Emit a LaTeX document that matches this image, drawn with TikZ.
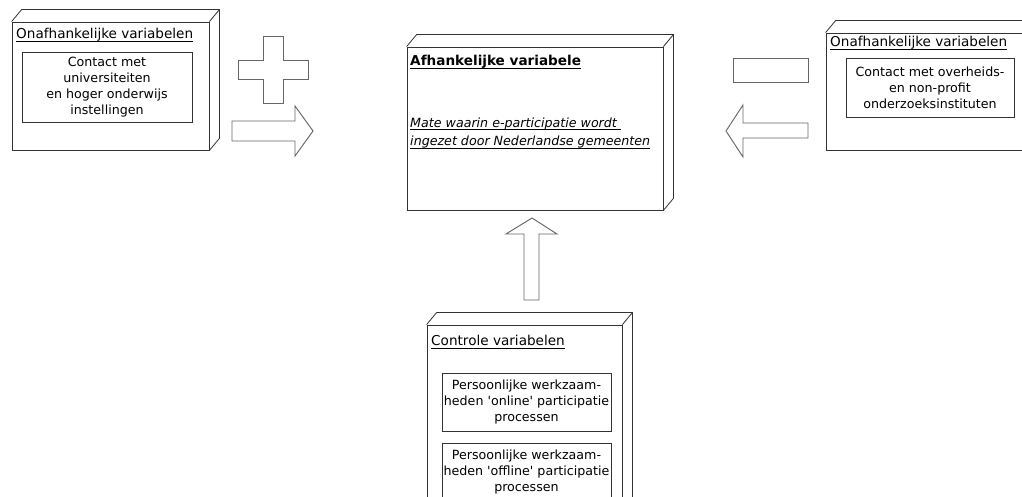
\documentclass[tikz,border=0pt]{standalone}
\usepackage{fontspec}
\setmainfont{DejaVu Sans}[Ligatures=TeXOff]
\usetikzlibrary{fit}

\newcommand\underl[1]{\setbox0\hbox{#1}\rlap{\rule[-2.2pt]{\wd0}{0.5pt}}\box0}
\newcommand\extrude[1]{%
  \draw[edge] (#1.north west) -- ++(10,-12) -- ([shift={(10,-12)}]#1.north east)
    -- ([shift={(10,-12)}]#1.south east) -- (#1.south east)
    (#1.north east) -- ++(10,-12);}

\begin{document}
\begin{tikzpicture}[x=0.3mm,y=-0.3mm,
  edge/.style={draw=black!80,line width=0.7pt},
  front/.style={edge,inner sep=0pt},
  inner/.style={edge,align=center,inner sep=0pt,font=\fontsize{10.8}{13.8}\selectfont},
  title/.style={inner sep=0pt,anchor=west,font=\fontsize{11.6}{14}\selectfont},
  blockshape/.style={draw=black!60,line width=0.8pt}]
\useasboundingbox (0,0) rectangle (1022,497);
\clip (0,0) rectangle (1022,497);

% independent variables, left
\node[front,fit={(12,22) (209,150)}] (indepL) {};
\node[title] (titleL) at (16,35) {\underl{Onafhankelijke variabelen}};
\node[inner,minimum width=51mm,minimum height=21mm] (contactL) at (107,87)
  {Contact met\\universiteiten\\en hoger onderwijs\\instellingen};

% dependent variable
\node[front,fit={(407,47) (663,210)}] (dep) {};
\node[title,font=\fontsize{11.6}{14}\selectfont\bfseries] (titleD) at (410,62) {\underl{Afhankelijke variabele}};
\node[title,align=left,font=\fontsize{10.8}{16}\itshape] (mate) at (410,133)
  {\underl{Mate waarin e-participatie wordt }\\\underl{ingezet door Nederlandse gemeenten}};

% independent variables, right
\node[front,fit={(826,33) (1040,150)}] (indepR) {};
\node[title] (titleR) at (830,43) {\underl{Onafhankelijke variabelen}};
\node[inner,minimum width=50.4mm,minimum height=17.7mm] (contactR) at (930,87.5)
  {Contact met overheids-\\en non-profit\\onderzoeksinstituten};

% control variables
\node[front,fit={(427,325) (622,560)}] (ctrl) {};
\node[title] (titleC) at (431,342) {\underl{Controle variabelen}};
\node[inner,minimum width=50.7mm,minimum height=17.4mm] (online) at (526.5,402)
  {Persoonlijke werkzaam-\\heden 'online' participatie\\processen};
\node[inner,minimum width=50.7mm,minimum height=17.4mm] (offline) at (526.5,472)
  {Persoonlijke werkzaam-\\heden 'offline' participatie\\processen};

\foreach \b in {indepL,dep,indepR,ctrl}
  \extrude{\b};

% plus and minus signs
\draw[blockshape] (263,36) -- (283,36) -- (283,60) -- (308,60) -- (308,79) -- (283,79)
  -- (283,103) -- (263,103) -- (263,79) -- (238,79) -- (238,60) -- (263,60) -- cycle;
\draw[blockshape] (733,58) rectangle (808,82);

% block arrows
\draw[blockshape] (232,121) -- (295,121) -- (295,106) -- (313,131) -- (295,156)
  -- (295,141) -- (232,141) -- cycle;
\draw[blockshape] (808,123) -- (743,123) -- (743,105) -- (726,131) -- (743,157)
  -- (743,138) -- (808,138) -- cycle;
\draw[blockshape] (524,300) -- (524,234) -- (506,234) -- (532,218) -- (557,234)
  -- (539,234) -- (539,300) -- cycle;
\end{tikzpicture}
\end{document}
